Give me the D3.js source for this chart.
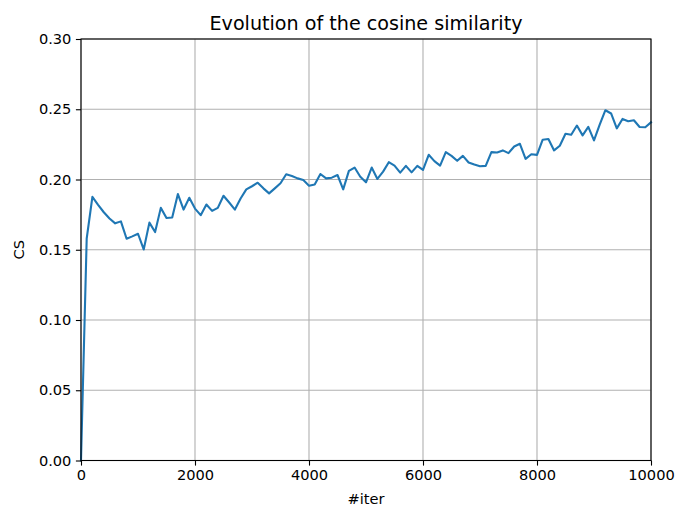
<!DOCTYPE html>
<html>
<head>
<meta charset="utf-8">
<script src="https://cdn.jsdelivr.net/npm/d3@7"></script>
<style>
  html, body { margin: 0; padding: 0; background: #fff; }
  svg { display: block; font-family: "DejaVu Sans", sans-serif; }
</style>
</head>
<body>
<svg id="chart" width="675" height="507"></svg>
<script>
const titleText = "Evolution of the cosine similarity";
const xLabel = "#iter";
const yLabel = "CS";
const xTicks = [0, 2000, 4000, 6000, 8000, 10000];
const yTicks = [0.00, 0.05, 0.10, 0.15, 0.20, 0.25, 0.30];
const xDomain = [0, 10000];
const yDomain = [0, 0.30];

const iters = [
  0, 100, 200, 300, 400, 500, 600, 700, 800, 900,
  1000, 1100, 1200, 1300, 1400, 1500, 1600, 1700, 1800, 1900,
  2000, 2100, 2200, 2300, 2400, 2500, 2600, 2700, 2800, 2900,
  3000, 3100, 3200, 3300, 3400, 3500, 3600, 3700, 3800, 3900,
  4000, 4100, 4200, 4300, 4400, 4500, 4600, 4700, 4800, 4900,
  5000, 5100, 5200, 5300, 5400, 5500, 5600, 5700, 5800, 5900,
  6000, 6100, 6200, 6300, 6400, 6500, 6600, 6700, 6800, 6900,
  7000, 7100, 7200, 7300, 7400, 7500, 7600, 7700, 7800, 7900,
  8000, 8100, 8200, 8300, 8400, 8500, 8600, 8700, 8800, 8900,
  9000, 9100, 9200, 9300, 9400, 9500, 9600, 9700, 9800, 9900,
  10000
];

const cs = [
  0.000, 0.158, 0.1877, 0.182, 0.1767, 0.1722, 0.1688, 0.1702, 0.1578, 0.1595,
  0.1614, 0.1502, 0.1693, 0.1626, 0.1798, 0.1726, 0.1729, 0.1896, 0.1786, 0.187,
  0.1793, 0.1746, 0.1822, 0.1777, 0.1798, 0.1884, 0.1836, 0.1786, 0.1865, 0.193,
  0.1952, 0.1977, 0.1937, 0.1901, 0.1937, 0.1973, 0.2037, 0.2025, 0.2008, 0.1996,
  0.1956, 0.1965, 0.2039, 0.2008, 0.2013, 0.2032, 0.193, 0.2061, 0.2085, 0.202,
  0.198, 0.2085, 0.2004, 0.2056, 0.2123, 0.2099, 0.2049, 0.2097, 0.2051, 0.2097,
  0.2068, 0.2176, 0.2131, 0.2099, 0.2195, 0.2168, 0.2133, 0.2168, 0.2121, 0.2106,
  0.2094, 0.2097, 0.2195, 0.2192, 0.2207, 0.2188, 0.2235, 0.2254, 0.2147, 0.2180,
  0.2175, 0.2283, 0.2288, 0.2207, 0.2240, 0.2326, 0.2319, 0.2384, 0.2314, 0.2374,
  0.2278, 0.2391, 0.2493, 0.2470, 0.2364, 0.2431, 0.2415, 0.2422, 0.2374, 0.2372,
  0.2407
];

const svg = d3.select("#chart");
const margin = { left: 81, right: 24, top: 39, bottom: 46.5 };
const W = 675, H = 507;
const x = d3.scaleLinear().domain(xDomain).range([margin.left, W - margin.right]);
const y = d3.scaleLinear().domain(yDomain).range([H - margin.bottom, margin.top]);

const fs = 14.6;

// grid
const grid = svg.append("g");
grid.selectAll("line.gx").data(xTicks).join("line")
  .attr("x1", d => x(d)).attr("x2", d => x(d))
  .attr("y1", y.range()[0]).attr("y2", y.range()[1])
  .attr("stroke", "#b0b0b0").attr("stroke-width", 1.1);
grid.selectAll("line.gy").data(yTicks).join("line")
  .attr("y1", d => y(d)).attr("y2", d => y(d))
  .attr("x1", x.range()[0]).attr("x2", x.range()[1])
  .attr("stroke", "#b0b0b0").attr("stroke-width", 1.1);

// line
const line = d3.line().x((d, i) => x(iters[i])).y(d => y(d));
svg.append("path").datum(cs)
  .attr("d", line)
  .attr("fill", "none")
  .attr("stroke", "#1f77b4")
  .attr("stroke-width", 2.1)
  .attr("stroke-linejoin", "round")
  .attr("stroke-linecap", "square");

// axes
const xAxis = d3.axisBottom(x).tickValues(xTicks).tickFormat(d3.format("d"))
  .tickSize(5.1).tickPadding(4.5);
const yAxis = d3.axisLeft(y).tickValues(yTicks).tickFormat(d3.format(".2f"))
  .tickSize(5.1).tickPadding(4.5);

const gx = svg.append("g").attr("transform", `translate(0,${y.range()[0]})`).call(xAxis);
const gy = svg.append("g").attr("transform", `translate(${x.range()[0]},0)`).call(yAxis);
[gx, gy].forEach(g => {
  g.select(".domain").remove();
  g.selectAll(".tick line").attr("stroke", "#000").attr("stroke-width", 1.1);
  g.selectAll(".tick text").attr("fill", "#000").style("font-size", fs + "px")
    .style("font-family", "'DejaVu Sans', sans-serif");
});

// frame
svg.append("rect")
  .attr("x", x.range()[0]).attr("y", y.range()[1])
  .attr("width", x.range()[1] - x.range()[0])
  .attr("height", y.range()[0] - y.range()[1])
  .attr("fill", "none").attr("stroke", "#000").attr("stroke-width", 1.1);

// title (sized to match the reference's text width)
const title = svg.append("text")
  .attr("x", (x.range()[0] + x.range()[1]) / 2)
  .attr("y", 30)
  .attr("text-anchor", "middle")
  .style("font-size", "17.2px")
  .attr("fill", "#000")
  .text(titleText);
const tw = title.node().getComputedTextLength();
if (tw > 0) title.style("font-size", (17.2 * 313 / tw).toFixed(2) + "px");

// x label
svg.append("text")
  .attr("x", (x.range()[0] + x.range()[1]) / 2)
  .attr("y", 504)
  .attr("text-anchor", "middle")
  .style("font-size", fs + "px")
  .attr("fill", "#000")
  .text(xLabel);

// y label
svg.append("text")
  .attr("transform", `translate(24,${(y.range()[0] + y.range()[1]) / 2}) rotate(-90)`)
  .attr("text-anchor", "middle")
  .style("font-size", fs + "px")
  .attr("fill", "#000")
  .text(yLabel);
</script>
</body>
</html>
